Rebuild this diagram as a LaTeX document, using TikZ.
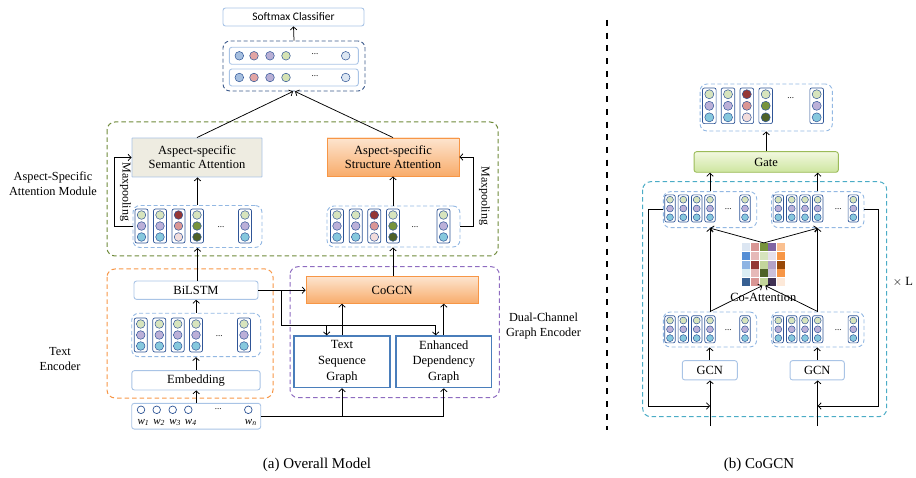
\documentclass[tikz,border=0pt]{standalone}
\usepackage{fontspec}
\setmainfont{Liberation Serif}
\newfontfamily\calfont{Carlito}
\usetikzlibrary{arrows.meta}
\definecolor{boxblue}{HTML}{A9C4E6}
\definecolor{grpblue}{HTML}{93B8E3}
\definecolor{colblue}{HTML}{2F5597}
\definecolor{navyd}{HTML}{3C5A8C}
\definecolor{oliveD}{HTML}{6E8A3A}
\definecolor{orangeD}{HTML}{F79646}
\definecolor{purpleD}{HTML}{8E6CC0}
\definecolor{cyanD}{HTML}{4BACC6}
\definecolor{graphblue}{HTML}{4A7EBB}
\definecolor{semfill}{HTML}{EEECE1}
\definecolor{orborder}{HTML}{F79646}
\definecolor{ortop}{HTML}{FDE4CE}
\definecolor{orbot}{HTML}{F8AC6B}
\definecolor{gtborder}{HTML}{9BBB59}
\definecolor{gttop}{HTML}{F2F8DF}
\definecolor{gtbot}{HTML}{CDE59F}
\definecolor{cg}{HTML}{D7E4BD}
\definecolor{cl}{HTML}{BBB0D8}
\definecolor{cc}{HTML}{86C8DD}
\definecolor{r1}{HTML}{953735}
\definecolor{r2}{HTML}{DA9694}
\definecolor{r3}{HTML}{F2DCDB}
\definecolor{g2}{HTML}{77933C}
\definecolor{g3}{HTML}{4F6228}
\definecolor{tb}{HTML}{A6BFDF}
\definecolor{tp}{HTML}{E2A5A4}
\definecolor{tl}{HTML}{B9AFD4}
\definecolor{tg}{HTML}{D5E3B3}
\definecolor{tlb}{HTML}{DCE6F2}
% matrix colours
\definecolor{ma}{HTML}{DCE6F2}\definecolor{mb}{HTML}{D99694}\definecolor{mc}{HTML}{77933C}\definecolor{md}{HTML}{8064A2}\definecolor{me}{HTML}{FAC090}
\definecolor{mf}{HTML}{558ED5}\definecolor{mg}{HTML}{E6B9B8}\definecolor{mh}{HTML}{D7E4BD}\definecolor{mi}{HTML}{E6E0EC}\definecolor{mj}{HTML}{F79646}
\definecolor{mk}{HTML}{8EB4E3}\definecolor{ml}{HTML}{953735}\definecolor{mm}{HTML}{C3D69B}\definecolor{mn}{HTML}{B3A2C7}\definecolor{mo}{HTML}{984807}
\definecolor{mp}{HTML}{DBEEF4}\definecolor{mq}{HTML}{E6B9B8}\definecolor{mr}{HTML}{4F6228}\definecolor{ms}{HTML}{CCC1DA}\definecolor{mt}{HTML}{F79646}
\definecolor{mu}{HTML}{376092}\definecolor{mv}{HTML}{D99694}\definecolor{mw}{HTML}{C3D69B}\definecolor{mx}{HTML}{403152}\definecolor{my}{HTML}{FDE9D9}

\newcommand{\vcolumn}[6]{%
  \begin{scope}[shift={(#1,#2)},scale=#3]
    \draw[colb] (-6.5,-17) rectangle (6.5,17);
    \draw[dotb,fill=#4] (0,-11) circle[radius=4.3];
    \draw[dotb,fill=#5] (0,0) circle[radius=4.3];
    \draw[dotb,fill=#6] (0,11) circle[radius=4.3];
  \end{scope}}
\newcommand{\ncol}[3]{\vcolumn{#1}{#2}{#3}{cg}{cl}{cc}}
\newcommand{\rcol}[3]{\vcolumn{#1}{#2}{#3}{r1}{r2}{r3}}
\newcommand{\gcol}[3]{\vcolumn{#1}{#2}{#3}{cg}{g2}{g3}}
\newcommand{\mcell}[3]{\fill[#3] ({742.3+#1*8.7},{243.3+#2*8.7}) rectangle ++(7.9,7.9);}

\begin{document}
\begin{tikzpicture}[x=1pt,y=-1pt,
  font=\fontsize{12.5}{14}\selectfont,
  arr/.style={-{Straight Barb[length=3pt,width=6.5pt]},line width=0.75pt},
  ln/.style={line width=0.75pt},
  sz/.style 2 args={minimum width=#1pt,minimum height=#2pt},
  lbox/.style={draw=boxblue,line width=0.9pt,rounded corners=2.5pt,fill=white,inner sep=0pt,align=center},
  grp/.style={draw=grpblue,line width=0.9pt,dash pattern=on 4pt off 2.5pt,rounded corners=7pt,inner sep=0pt},
  colb/.style={draw=colblue,line width=0.7pt,rounded corners=2pt,fill=white},
  dotb/.style={draw=colblue,line width=0.5pt},
  modbox/.style={line width=1pt,dash pattern=on 4.5pt off 3pt,rounded corners=8pt},
  orbox/.style={draw=orborder,line width=0.9pt,top color=ortop,bottom color=orbot,inner sep=0pt,align=center},
  gbox/.style={draw=graphblue,line width=1.2pt,fill=white,inner sep=0pt,align=center},
  dotsf/.style={font=\fontsize{9}{9}\selectfont,inner sep=0pt},
  lab/.style={font=\fontsize{12.3}{15}\selectfont,align=center,inner sep=0pt},
  captxt/.style={font=\fontsize{15}{17}\selectfont,inner sep=0pt},
  wl/.style={font=\fontsize{11}{12}\selectfont,inner sep=0pt},
]
\useasboundingbox (0,0) rectangle (916,478);

% ---------- module frames ----------
\draw[modbox,draw=oliveD] (107,122) rectangle (498,256);
\draw[modbox,draw=orangeD] (107,269) rectangle (273,398);
\draw[modbox,draw=purpleD] (290,266.7) rectangle (499.3,397.7);
\draw[modbox,draw=cyanD] (642.7,181.7) rectangle (886.7,416.7);

% ---------- top classifier ----------
\node[lbox,sz={141}{18},font=\calfont\fontsize{11.5}{13}\selectfont] (soft) at (293.5,17) {Softmax Classifier};
\node[draw=navyd,line width=0.9pt,dash pattern=on 4pt off 2.5pt,rounded corners=7pt,sz={142}{50},inner sep=0pt] (topgrp) at (294,66) {};
\node[lbox,sz={129}{17}] (row1) at (293.8,55.8) {};
\node[lbox,sz={129}{17}] (row2) at (293.8,77.5) {};
\foreach \yy in {55.8,77.5}{
  \foreach \xx/\cc in {239.3/tb,254/tp,270/tl,286/tg,345.7/tlb}
    \draw[dotb,fill=\cc] (\xx,\yy) circle[radius=4.3];
  \node[dotsf] at (315,\yy-1.5) {...};
}

% ---------- attention module ----------
\node[lbox,fill=semfill,rounded corners=0.5pt,sz={130}{39}] (sem) at (197,157.5) {Aspect-specific\\Semantic Attention};
\node[orbox,sz={132}{38}] (str) at (393,157) {Aspect-specific\\Structure Attention};

\node[grp,sz={129}{42}] (semgrp) at (197.5,226.5) {};
\ncol{141.5}{226}{1}\ncol{160}{226}{1}\rcol{178.5}{226}{1}\gcol{197}{226}{1}\ncol{245}{226}{1}
\node[dotsf] at (221,227) {...};

\node[grp,sz={133}{41}] (strgrp) at (393.5,226.5) {};
\ncol{337}{226}{1}\ncol{355.7}{226}{1}\rcol{374.3}{226}{1}\gcol{393}{226}{1}\ncol{443.5}{226}{1}
\node[dotsf] at (415,227) {...};

\node[lab] at (53,184) {Aspect-Specific\\Attention Module};
\node[font=\fontsize{12}{12}\selectfont,rotate=-90,inner sep=0pt] at (125.5,192) {Maxpooling};
\node[font=\fontsize{12}{12}\selectfont,rotate=-90,inner sep=0pt] at (484.5,196) {Maxpooling};

% ---------- text encoder ----------
\node[lbox,sz={124}{18.3}] (bilstm) at (196,290.2) {BiLSTM};
\node[grp,sz={129}{43.4}] (tegrp) at (196.2,335) {};
\ncol{140.7}{335}{1}\ncol{159.3}{335}{1}\ncol{177.7}{335}{1}\ncol{196}{335}{1}\ncol{244}{335}{1}
\node[dotsf] at (219.3,336) {...};
\node[lbox,sz={128.3}{19.3}] (emb) at (196,380.3) {Embedding};
\node[lbox,sz={129}{25.7}] (inp) at (196.2,416.2) {};
\foreach \xx/\ll in {141/1,156.7/2,172.7/3,188.3/4,248.3/n}{
  \draw[dotb,fill=white,line width=0.7pt] (\xx,409.8) circle[radius=3.8];
  \node[wl] at (\xx+2.5,422.5) {\textit{w}\textsubscript{\textit{\ll}}};
}
\node[dotsf] at (218.3,409) {...};
\node[lab] at (60,359) {Text\\Encoder};

% ---------- graph encoder ----------
\node[orbox,sz={172.3}{26.6}] (cogcn) at (392.2,290) {CoGCN};
\node[gbox,sz={96}{51.7},font=\fontsize{12.5}{15.8}\selectfont] (tsg) at (342,361.8) {Text\\Sequence\\Graph};
\node[gbox,sz={95.7}{51.7},font=\fontsize{12.5}{15.8}\selectfont] (edg) at (443.8,361.8) {Enhanced\\Dependency\\Graph};
\node[lab] at (543.5,326) {Dual-Channel\\Graph Encoder};

% ---------- left connectors ----------
\draw[arr] (topgrp.north) -- (soft.south);
\draw[arr] (sem.north) -- ([xshift=-1pt]topgrp.south);
\draw[arr] (str.north) -- ([xshift=1pt]topgrp.south);
\draw[arr] (semgrp.north) -- (semgrp.north |- sem.south);
\draw[arr] (strgrp.north -| str.south) -- (str.south);
\draw[arr] (semgrp.west) -- ++(-18,0) |- (sem.west);
\draw[arr] (strgrp.east) -- ++(13.3,0) |- (str.east);
\draw[arr] (bilstm.north -| semgrp.south) -- (semgrp.south);
\draw[arr] (tegrp.north) -- (tegrp.north |- bilstm.south);
\draw[arr] (emb.north) -- (emb.north |- tegrp.south);
\draw[arr] (inp.north) -- (inp.north |- emb.south);
\draw[arr] (cogcn.north -| str.south) -- (strgrp.south -| str.south);
\draw[arr] (bilstm.east) -- (cogcn.west |- bilstm.east);
\coordinate (b0) at (281,290.2);
\coordinate (b1) at (281,325.7);
\coordinate (b2) at (326.7,325.7);
\coordinate (b3) at (435.7,325.7);
\draw[ln] (b0) -- (b1) -- (b3);
\draw[arr] (b2) -- (tsg.north -| b2);
\draw[arr] (b3) -- (edg.north -| b3);
\draw[arr] (tsg.north) -- (tsg.north |- cogcn.south);
\draw[arr] (edg.north) -- (edg.north |- cogcn.south);
\draw[ln] (inp.east) -- (inp.east -| edg.south);
\draw[arr] (inp.east -| tsg.south) -- (tsg.south);
\draw[arr] (inp.east -| edg.south) -- (edg.south);

% ---------- divider ----------
\coordinate (d0) at (607,20);
\coordinate (d1) at (607,430);
\draw[line width=1.6pt,dash pattern=on 6pt off 6.7pt] (d0) -- (d1);

% ---------- CoGCN detail ----------
\node[grp,sz={132.3}{47}] (rtop) at (766.2,107.5) {};
\ncol{709.3}{105.8}{1.05}\ncol{728}{105.8}{1.05}\rcol{746.8}{105.8}{1.05}\gcol{765.7}{105.8}{1.05}\ncol{816.7}{105.8}{1.05}
\node[dotsf] at (790.7,98.5) {...};
\node[draw=gtborder,line width=0.9pt,rounded corners=2.5pt,top color=gttop,bottom color=gtbot,sz={144.3}{20.6},inner sep=0pt] (gate) at (766.2,162) {Gate};

\node[grp,sz={93.4}{36}] (ul) at (710,209.7) {};
\node[grp,sz={92.5}{36}] (ur) at (817.75,209.7) {};
\node[grp,sz={93.4}{35}] (ll) at (710,329.5) {};
\node[grp,sz={92.5}{35}] (lr) at (817.75,329.5) {};
\foreach \yy in {208.5,329.3}{
  \foreach \xx in {670,683.3,696.7,710,745,778.3,791.7,805,817.7,853.3}{\ncol{\xx}{\yy}{0.8}}
  \node[dotsf] at (728.3,\yy+1) {...};
  \node[dotsf] at (838.3,\yy+1) {...};
}

\node[lbox,sz={55}{19.3}] (gcnl) at (709.8,370.3) {GCN};
\node[lbox,sz={54.3}{19.3}] (gcnr) at (817.2,370.3) {GCN};

% co-attention matrix
\mcell{0}{0}{ma}\mcell{1}{0}{mb}\mcell{2}{0}{mc}\mcell{3}{0}{md}\mcell{4}{0}{me}
\mcell{0}{1}{mf}\mcell{1}{1}{mg}\mcell{2}{1}{mh}\mcell{3}{1}{mi}\mcell{4}{1}{mj}
\mcell{0}{2}{mk}\mcell{1}{2}{ml}\mcell{2}{2}{mm}\mcell{3}{2}{mn}\mcell{4}{2}{mo}
\mcell{0}{3}{mp}\mcell{1}{3}{mq}\mcell{2}{3}{mr}\mcell{3}{3}{ms}\mcell{4}{3}{mt}
\mcell{0}{4}{mu}\mcell{1}{4}{mv}\mcell{2}{4}{mw}\mcell{3}{4}{mx}\mcell{4}{4}{my}
\node[sz={43.4}{42.4},inner sep=0pt] (coatt) at (763.8,264.3) {};
\node[inner sep=0pt] (coattl) at (763.3,297.5) {Co-Attention};
\node[inner sep=0pt] (xl) at (903,282) {$\times$ L};

\coordinate (inl) at (710,426);
\coordinate (inr) at (817.7,426);
\draw[arr] (gate.north -| rtop.south) -- (rtop.south);
\draw[arr] (ul.north) -- (ul.north |- gate.south);
\draw[arr] (ur.north) -- (ur.north |- gate.south);
\draw[arr] (ll.north) -- (ul.south);
\draw[arr] (lr.north) -- (ur.south);
\draw[arr] (ll.north) -- ([xshift=-1.5pt]coatt.south);
\draw[arr] (lr.north) -- ([xshift=1.5pt]coatt.south);
\draw[arr] (coatt.north) -- (ul.south);
\draw[arr] (coatt.north) -- (ur.south);
\draw[arr] (gcnl.north) -- (gcnl.north |- ll.south);
\draw[arr] (gcnr.north) -- (gcnr.north |- lr.south);
\draw[arr] (inl) -- (inl |- gcnl.south);
\draw[arr] (inr) -- (inr |- gcnr.south);
\draw[arr] (ul.west) -- ++(-14,0) |- (710,406);
\draw[arr] (ur.east) -- ++(14.3,0) |- (817.7,406);

% ---------- captions ----------
\node[captxt] (capa) at (317,465) {(a) Overall Model};
\node[captxt] (capb) at (759,465) {(b) CoGCN};
\end{tikzpicture}
\end{document}
